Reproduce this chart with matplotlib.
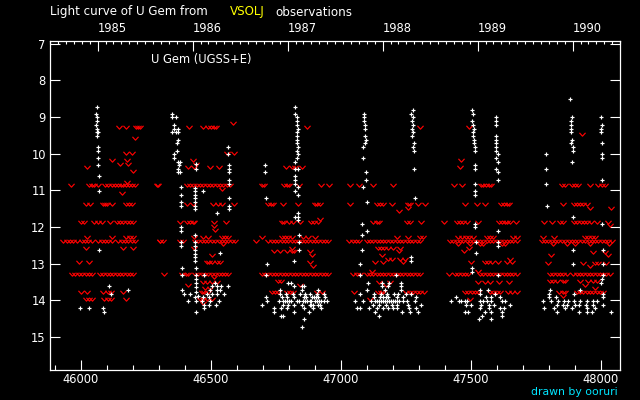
import datetime as dt
import numpy as np
import matplotlib
matplotlib.use("Agg")
import matplotlib.pyplot as plt
from matplotlib.path import Path
from matplotlib.transforms import blended_transform_factory

# ---------------- data (JD-2400000, visual magnitude) ----------------
title_left = "Light curve of U Gem from"
title_mid = "VSOLJ"
title_right = "observations"
star_label = "U Gem (UGSS+E)"
credit = "drawn by ooruri"
year_labels = [1985, 1986, 1987, 1988, 1989, 1990]
x_ticks = [46000, 46500, 47000, 47500, 48000]
y_ticks = [7, 8, 9, 10, 11, 12, 13, 14, 15]

# positive observations (white +)
obs_1985 = [(46064, 8.74), (46060, 8.93), (46063, 9.01), (46064, 9.12), (46060, 9.23), (46064, 9.34),
            (46062, 9.42), (46066, 9.42), (46064, 9.53), (46068, 9.83), (46068, 9.94), (46068, 10.13),
            (46068, 10.32), (46072, 10.62), (46072, 11.03), (46072, 12.64), (46110, 13.62), (46183, 13.73),
            (46118, 13.84), (45998, 14.22), (46033, 14.22), (46087, 14.22), (46091, 14.33)]
obs_1986 = [(46353, 8.93), (46350, 9.01), (46367, 9.01), (46357, 9.23), (46357, 9.34), (46353, 9.42),
            (46365, 9.42), (46376, 9.34), (46376, 9.42), (46376, 9.64), (46372, 9.72), (46372, 9.94),
            (46360, 10.02), (46360, 10.13), (46376, 10.24), (46383, 10.24), (46380, 10.32), (46376, 10.43),
            (46376, 10.51), (46383, 10.51), (46442, 10.27), (46442, 10.43), (46568, 9.83), (46568, 10.02),
            (46572, 10.32), (46572, 10.43), (46572, 10.51), (46572, 10.73), (46572, 10.84), (46387, 10.92),
            (46387, 11.14), (46387, 11.33), (46387, 11.44), (46441, 10.95), (46441, 11.03), (46441, 11.14),
            (46441, 11.22), (46441, 11.33), (46441, 11.44), (46441, 11.52), (46472, 11.03), (46526, 11.63),
            (46572, 11.22), (46572, 11.44), (46572, 11.52), (46387, 12.01), (46387, 12.12), (46387, 12.42),
            (46387, 12.53), (46441, 12.23), (46441, 12.42), (46441, 12.53), (46441, 12.64), (46441, 12.75),
            (46441, 12.83), (46441, 12.94), (46537, 12.72), (46391, 13.13), (46391, 13.32), (46445, 13.13),
            (46445, 13.32), (46445, 13.43), (46445, 13.54), (46445, 13.65), (46445, 13.76), (46441, 13.92),
            (46391, 13.73), (46399, 13.84), (46422, 13.84), (46414, 14.03), (46445, 14.03), (46476, 13.32),
            (46518, 13.54), (46506, 13.62), (46526, 13.62), (46541, 13.62), (46568, 13.62), (46499, 13.73),
            (46526, 13.73), (46537, 13.73), (46487, 13.84), (46506, 13.84), (46526, 13.84), (46553, 13.84),
            (46472, 13.92), (46495, 13.92), (46468, 14.03), (46499, 14.03), (46533, 14.03), (46476, 14.14),
            (46495, 14.14), (46522, 14.14), (46476, 14.22), (46445, 14.33), (46453, 13.89)]
obs_1987 = [(46825, 8.74), (46825, 8.93), (46830, 9.01), (46830, 9.12), (46830, 9.23), (46834, 9.34),
            (46830, 9.42), (46830, 9.53), (46830, 9.64), (46830, 9.72), (46834, 9.83), (46830, 9.94),
            (46834, 10.02), (46830, 10.13), (46825, 10.24), (46825, 10.43), (46837, 10.43), (46825, 10.62),
            (46825, 10.73), (46825, 10.84), (46825, 11.03), (46837, 10.92), (46837, 11.14), (46710, 10.32),
            (46710, 10.51), (46714, 11.22), (46837, 11.63), (46825, 11.74), (46837, 11.74), (46837, 11.82),
            (46841, 12.23), (46841, 12.42), (46841, 12.64), (46821, 12.94), (46718, 13.02), (46714, 13.32),
            (46798, 13.54), (46810, 13.54), (46821, 13.62), (46852, 13.62), (46860, 13.62), (46852, 13.73),
            (46914, 13.73), (46768, 13.73), (46768, 13.84), (46791, 13.84), (46818, 13.84), (46845, 13.84),
            (46864, 13.84), (46883, 13.84), (46907, 13.84), (46937, 13.84), (46714, 13.92), (46775, 13.92),
            (46795, 13.92), (46821, 13.92), (46891, 13.92), (46914, 13.92), (46941, 13.92), (46718, 14.03),
            (46764, 14.03), (46779, 14.03), (46795, 14.03), (46810, 14.03), (46856, 14.03), (46872, 14.03),
            (46887, 14.03), (46902, 14.03), (46918, 14.03), (46948, 14.03), (46779, 14.14), (46798, 14.14),
            (46821, 14.14), (46852, 14.14), (46887, 14.14), (46921, 14.14), (46698, 14.14), (46745, 14.22),
            (46771, 14.22), (46795, 14.22), (46860, 14.22), (46895, 14.22), (46925, 14.22), (46745, 14.33),
            (46821, 14.33), (46879, 14.33), (46771, 14.44), (46779, 14.44), (46860, 14.52), (46852, 14.74),
            (46830, 14.03), (46840, 14.03), (46864, 14.03), (46880, 14.03), (46910, 14.03), (46926, 14.03),
            (46934, 14.03), (46787, 14.03), (46802, 14.03), (46860, 13.92), (46868, 13.92), (46898, 13.92),
            (46906, 13.92), (46880, 14.14), (46895, 14.14), (46913, 14.14)]
obs_1988 = [(47091, 8.93), (47091, 9.01), (47091, 9.12), (47093, 9.23), (47093, 9.34), (47094, 9.53),
            (47098, 9.64), (47094, 9.72), (47087, 9.83), (47087, 10.13), (47098, 10.51), (47098, 10.73),
            (47087, 10.92), (47102, 11.33), (47083, 11.93), (47102, 12.12), (47083, 12.23), (47083, 12.64),
            (47075, 13.02), (47075, 13.32), (47279, 8.82), (47271, 8.93), (47279, 9.01), (47275, 9.12),
            (47279, 9.23), (47275, 9.34), (47279, 9.42), (47275, 9.53), (47283, 9.72), (47279, 9.83),
            (47283, 9.94), (47283, 10.43), (47287, 11.22), (47271, 12.83), (47271, 12.94), (47214, 13.32),
            (47106, 13.54), (47160, 13.54), (47187, 13.54), (47233, 13.54), (47160, 13.62), (47183, 13.62),
            (47233, 13.62), (47102, 13.73), (47171, 13.73), (47233, 13.73), (47075, 13.84), (47129, 13.84),
            (47156, 13.84), (47179, 13.84), (47206, 13.84), (47221, 13.84), (47252, 13.84), (47271, 13.84),
            (47129, 13.92), (47152, 13.92), (47175, 13.92), (47218, 13.92), (47241, 13.92), (47291, 13.92),
            (47056, 14.03), (47087, 14.03), (47118, 14.03), (47133, 14.03), (47148, 14.03), (47164, 14.03),
            (47179, 14.03), (47194, 14.03), (47210, 14.03), (47225, 14.03), (47241, 14.03), (47256, 14.03),
            (47287, 14.03), (47125, 14.14), (47148, 14.14), (47175, 14.14), (47198, 14.14), (47218, 14.14),
            (47260, 14.14), (47310, 14.14), (47064, 14.22), (47075, 14.22), (47110, 14.22), (47141, 14.22),
            (47164, 14.22), (47183, 14.22), (47202, 14.22), (47218, 14.22), (47264, 14.22), (47291, 14.22),
            (47133, 14.33), (47237, 14.33), (47268, 14.33), (47298, 14.33), (47148, 14.44), (47140, 14.03),
            (47156, 14.03), (47171, 14.03), (47187, 14.03), (47202, 14.03), (47217, 14.03), (47164, 13.92),
            (47183, 13.92)]
obs_1989 = [(47506, 8.82), (47510, 8.93), (47506, 9.12), (47510, 9.23), (47514, 9.34), (47510, 9.42),
            (47510, 9.53), (47514, 9.64), (47514, 9.72), (47518, 9.83), (47518, 9.94), (47518, 10.32),
            (47518, 10.43), (47518, 10.84), (47518, 11.03), (47518, 11.14), (47518, 11.93), (47518, 12.01),
            (47522, 12.42), (47522, 12.72), (47599, 9.01), (47599, 9.12), (47599, 9.23), (47599, 9.53),
            (47599, 9.64), (47599, 9.72), (47599, 9.83), (47599, 9.94), (47603, 10.02), (47599, 10.13),
            (47603, 10.24), (47599, 10.43), (47603, 10.51), (47603, 10.73), (47603, 12.12), (47603, 12.42),
            (47603, 12.53), (47506, 13.13), (47506, 13.24), (47606, 13.32), (47537, 13.73), (47568, 13.73),
            (47595, 13.84), (47537, 13.84), (47445, 13.92), (47560, 13.92), (47576, 13.92), (47614, 13.92),
            (47426, 14.03), (47453, 14.03), (47464, 14.03), (47479, 14.03), (47487, 14.03), (47537, 14.03),
            (47549, 14.03), (47564, 14.03), (47579, 14.03), (47622, 14.03), (47633, 14.03), (47483, 14.14),
            (47502, 14.14), (47541, 14.14), (47572, 14.14), (47591, 14.14), (47652, 14.14), (47537, 14.22),
            (47572, 14.22), (47614, 14.22), (47626, 14.22), (47479, 14.33), (47491, 14.33), (47556, 14.33),
            (47576, 14.33), (47622, 14.33), (47545, 14.44), (47622, 14.44), (47533, 14.52), (47576, 14.52)]
obs_1990 = [(47883, 8.52), (47890, 9.01), (47886, 9.12), (47886, 9.23), (47886, 9.34), (47886, 9.42),
            (47890, 9.64), (47886, 9.72), (47892, 9.83), (47892, 9.94), (47890, 10.24), (47791, 10.02),
            (47791, 10.43), (47791, 10.84), (47795, 11.44), (47895, 11.74), (48001, 9.01), (48006, 9.23),
            (48001, 9.34), (48001, 9.42), (48004, 9.72), (48006, 10.02), (48006, 10.13), (48006, 10.73),
            (48006, 11.93), (47895, 12.64), (47895, 13.02), (48010, 12.64), (48010, 13.02), (48010, 13.32),
            (48006, 13.43), (48001, 13.54), (47806, 13.73), (47922, 13.73), (47802, 13.84), (47898, 13.84),
            (48010, 13.84), (47802, 13.92), (48010, 13.92), (47779, 14.03), (47810, 14.03), (47829, 13.92),
            (47837, 14.03), (47860, 14.03), (47875, 14.03), (47898, 14.03), (47922, 14.03), (47949, 14.03),
            (47972, 14.03), (47987, 14.03), (47833, 14.14), (47856, 14.14), (47872, 14.14), (47902, 14.14),
            (47918, 14.14), (47945, 14.14), (47972, 14.14), (48010, 14.14), (47783, 14.22), (47822, 14.22),
            (47864, 14.22), (47891, 14.22), (47949, 14.22), (47979, 14.22), (47833, 14.33), (47918, 14.33),
            (47949, 14.33), (47968, 14.33), (48041, 14.33)]

# "fainter than" estimates (red v): (magnitude, [JD, ...])
lim_1985 = [(9.28, [46148, 46174, 46213, 46222, 46228]), (9.58, [46210]), (9.97, [46174, 46196]),
            (10.17, [46121, 46179]), (10.27, [46152, 46183]), (10.36, [46025]), (10.47, [46202]),
            (10.78, [46177]),
            (10.86, [45963, 46033, 46042, 46051, 46068, 46093, 46106, 46121, 46132, 46142, 46154, 46164,
                     46174, 46186, 46198, 46209, 46292]),
            (11.08, [46157]),
            (11.38, [46020, 46036, 46084, 46093, 46102, 46121, 46173, 46186, 46198]),
            (11.87, [46000, 46014, 46052, 46068, 46081, 46113, 46138, 46151, 46164, 46177, 46189, 46202]),
            (12.28, [46025, 46119, 46174, 46189, 46202]),
            (12.37, [45933, 45946, 45959, 45972, 45984, 46004, 46016, 46029, 46042, 46068, 46081, 46093,
                     46106, 46121, 46145, 46157, 46170, 46183, 46196, 46209, 46305]),
            (12.58, [46020, 46164, 46202]), (12.96, [45995, 46033]),
            (13.27, [45968, 45980, 45993, 46006, 46019, 46032, 46042, 46074, 46087, 46100, 46113, 46125,
                     46138, 46151, 46164, 46177, 46189, 46202]),
            (13.78, [46001, 46023, 46084, 46104, 46116, 46164]),
            (13.96, [46020, 46033, 46045, 46091, 46104, 46116, 46174])]
lim_1986 = [(9.17, [46587]), (9.28, [46418, 46469, 46491, 46501, 46512, 46521]), (9.97, [46562, 46591]),
            (10.17, [46430]), (10.27, [46444]), (10.36, [46414, 46436, 46499, 46533]),
            (10.86, [46299, 46408, 46421, 46433, 46446, 46459, 46472, 46485, 46498, 46510, 46523, 46536,
                     46549, 46562, 46574]),
            (10.97, [46545]), (11.38, [46408, 46430, 46510, 46527, 46542, 46591]),
            (11.87, [46382, 46408, 46421, 46430, 46437, 46514, 46558]), (11.97, [46514]), (12.07, [46517]),
            (12.28, [46437, 46472, 46489, 46542, 46555, 46568]),
            (12.37, [46305, 46318, 46382, 46395, 46440, 46453, 46465, 46478, 46491, 46504, 46517, 46530,
                     46542, 46555, 46568, 46581, 46594]),
            (12.47, [46549]), (12.58, [46437]), (12.77, [46504]),
            (12.96, [46485, 46495, 46506, 46523, 46536]),
            (13.27, [46322, 46389, 46404, 46414, 46440, 46453, 46465, 46478, 46491, 46504, 46517, 46530,
                     46542, 46555, 46566]),
            (13.37, [46514]), (13.49, [46472, 46485, 46506, 46523]), (13.57, [46414]),
            (13.67, [46478, 46498]), (13.78, [46465, 46476, 46489]),
            (13.96, [46459, 46472, 46485, 46504]), (14.08, [46472])]
lim_1987 = [(9.28, [46871]), (10.36, [46789, 46811, 46824, 46850]),
            (10.86, [46696, 46705, 46782, 46792, 46802, 46841, 46923, 46954]),
            (11.38, [46722, 46730, 46741, 46777, 46837, 46901, 46910, 46920]), (11.77, [46920]),
            (11.87, [46773, 46783, 46802, 46815, 46843, 46886, 46898, 46911]),
            (12.28, [46696, 46773, 46786, 46798, 46811, 46856, 46875, 46901]),
            (12.37, [46674, 46722, 46734, 46747, 46760, 46773, 46786, 46798, 46811, 46824, 46837, 46850,
                     46863, 46875, 46888, 46901, 46914, 46927, 46939, 46952]),
            (12.58, [46811]), (12.65, [46743, 46766, 46795, 46811, 46822, 46882]), (12.77, [46888]),
            (12.96, [46882]), (13.07, [46892]),
            (13.27, [46696, 46709, 46722, 46734, 46747, 46760, 46773, 46786, 46798, 46811, 46824, 46837,
                     46850, 46863, 46875, 46888, 46901, 46914, 46927, 46939, 46952]),
            (13.47, [46760, 46770]), (13.58, [46843]),
            (13.78, [46734, 46747, 46760, 46792, 46805, 46818, 46907, 46927])]
lim_1988 = [(9.28, [47306]), (10.86, [47035, 47070, 47125, 47202]),
            (11.38, [47035, 47141, 47151, 47161, 47196, 47260, 47266, 47298, 47324]),
            (11.47, [47260]), (11.57, [47225]),
            (11.87, [47125, 47138, 47148, 47253, 47266, 47309]),
            (12.28, [47215, 47260, 47305, 47315]),
            (12.37, [47033, 47046, 47059, 47071, 47100, 47112, 47125, 47138, 47151, 47164, 47176, 47189,
                     47202, 47215, 47228, 47241, 47253, 47266, 47279, 47292, 47305]),
            (12.58, [47142, 47155, 47168, 47180, 47200, 47228]), (12.65, [47225]), (12.77, [47160]),
            (12.88, [47183, 47196, 47228, 47247]), (12.96, [47132, 47164, 47238]), (13.19, [47119]),
            (13.27, [47046, 47061, 47074, 47100, 47112, 47125, 47138, 47151, 47164, 47176, 47189, 47202,
                     47215, 47228, 47241, 47253, 47266, 47279, 47292, 47305]),
            (13.49, [47148, 47189]), (13.58, [47174]),
            (13.78, [47051, 47144, 47153, 47164, 47251, 47266, 47279, 47292, 47305, 47320]),
            (13.96, [47112])]
lim_1989 = [(9.28, [47495]), (10.17, [47464]), (10.36, [47459]),
            (10.86, [47436, 47468, 47538, 47549, 47559, 47569, 47578]),
            (11.38, [47478, 47523, 47555, 47615, 47628, 47638, 47649]),
            (11.87, [47397, 47446, 47459, 47472, 47485, 47526, 47610, 47620, 47631, 47641, 47651, 47674]),
            (12.28, [47452, 47465, 47482, 47495, 47510, 47561, 47574, 47587, 47664, 47677]),
            (12.37, [47420, 47433, 47446, 47459, 47472, 47485, 47497, 47510, 47523, 47536, 47549, 47561,
                     47574, 47587, 47600, 47613, 47626, 47638, 47651, 47664, 47677]),
            (12.47, [47452, 47497, 47536, 47549, 47619, 47632]), (12.58, [47495]), (12.65, [47474]),
            (12.88, [47651]), (12.96, [47500, 47555, 47568, 47581, 47606, 47638, 47658]),
            (13.19, [47529]),
            (13.27, [47418, 47440, 47452, 47465, 47478, 47491, 47536, 47549, 47561, 47574, 47587, 47600,
                     47613, 47626, 47638, 47651, 47664, 47677]),
            (13.49, [47529, 47555, 47574, 47610, 47649]),
            (13.78, [47478, 47491, 47504, 47517, 47526, 47574, 47587, 47600, 47613, 47645, 47658, 47677]),
            (13.96, [47497])]
lim_1990 = [(9.47, [47929]), (10.86, [47850, 47863, 47888, 47901, 47914, 47959, 47991, 48004, 48016]),
            (11.38, [47856, 47897, 47907, 47920, 47933, 47946]), (11.47, [47959, 48040]),
            (11.87, [47782, 47811, 47843, 47854, 47897, 47910, 47923, 47936, 47948, 47961, 47984, 48029]),
            (11.95, [48036]), (12.27, [47777, 47820, 47940, 47952, 47965, 47978]),
            (12.37, [47773, 47786, 47799, 47811, 47824, 47837, 47850, 47863, 47876, 47889, 47901, 47914,
                     47927, 47940, 47953, 47965, 47978, 47991, 48004, 48017, 48029, 48042]),
            (12.47, [47815, 47869, 47901, 47959, 48033]), (12.67, [47972, 48016]), (12.77, [47807, 48029]),
            (12.97, [47799, 47933, 47978, 47991, 48020]), (13.06, [47959]),
            (13.27, [47805, 47818, 47831, 47843, 47856, 47869, 47895, 47907, 47920, 47933, 47946, 47959,
                     47971, 47984, 47997, 48010, 48022, 48035]),
            (13.48, [47805, 47818, 47831, 47856, 47863, 47920, 47952, 47972, 47984]),
            (13.57, [47940]), (13.67, [47978]),
            (13.78, [47841, 47854, 47863, 47907, 47920, 47933, 47946, 47959, 47971, 47984, 47997, 48010]),
            (13.87, [47856])]

# ---------------- assemble ----------------
obs = obs_1985 + obs_1986 + obs_1987 + obs_1988 + obs_1989 + obs_1990
obs_jd = np.array([p[0] for p in obs], dtype=float)
obs_mag = np.array([p[1] for p in obs], dtype=float)
lim_jd, lim_mag = [], []
for season in (lim_1985, lim_1986, lim_1987, lim_1988, lim_1989, lim_1990):
    for mag, jds in season:
        lim_jd.extend(jds)
        lim_mag.extend([mag] * len(jds))


def jd_of(y, m, d=1):
    return dt.date(y, m, d).toordinal() + 1721424.5 - 2400000


W, H = 640, 400
fig = plt.figure(figsize=(6.4, 4.0), dpi=100, facecolor="black")
ax = fig.add_axes([50 / W, 30 / H, 570 / W, 329 / H], facecolor="black")
ax.set_xlim(45882, 48074)
ax.set_ylim(15.9, 6.93)

vee = Path([(-1, 0.55), (0, -0.55), (1, 0.55)], [Path.MOVETO, Path.LINETO, Path.LINETO])
ax.plot(lim_jd, lim_mag, ls="none", marker=vee, ms=4.4, mew=0.85, mfc="none",
        mec="#ff0000", antialiased=False)
ax.plot(obs_jd, obs_mag, ls="none", marker="+", ms=3.4, mew=0.85, color="white",
        antialiased=False)

for s in ax.spines.values():
    s.set_color("white")
    s.set_linewidth(0.9)

fs = 8.3
ax.set_xticks(x_ticks)
ax.set_xticklabels([str(v) for v in x_ticks])
ax.set_xticks(np.arange(45900, 48075, 100), minor=True)
ax.set_yticks(y_ticks)
ax.set_yticklabels([str(v) for v in y_ticks])
ax.tick_params(axis="x", which="major", direction="in", length=7.2, width=0.8, colors="white",
               labelsize=fs, pad=2.0, top=False)
ax.tick_params(axis="x", which="minor", direction="in", length=3.6, width=0.8, colors="white",
               top=False)
ax.tick_params(axis="y", which="major", direction="in", length=7.2, width=0.8, colors="white",
               labelsize=fs, pad=3, right=True)

# top calendar axis
ax2 = ax.twiny()
ax2.set_xlim(ax.get_xlim())
ax2.set_facecolor("none")
year_jd = [jd_of(y, 1) for y in year_labels]
month_jd = [jd_of(y, m) for y in range(1984, 1991) for m in range(1, 13)]
month_jd = [v for v in month_jd if 45882 < v < 48074]
ax2.set_xticks(year_jd)
ax2.set_xticks(month_jd, minor=True)
ax2.set_xticklabels([])
ax2.tick_params(axis="x", which="major", direction="in", length=7.2, width=0.8, colors="white",
                labeltop=False)
ax2.tick_params(axis="x", which="minor", direction="in", length=2.5, width=0.8, colors="white")
for s in ax2.spines.values():
    s.set_visible(False)

trans = blended_transform_factory(ax.transData, fig.transFigure)
for y, xj in zip(year_labels, year_jd):
    ax.text(xj, 1 - 28 / H, str(y), transform=trans, ha="left", va="center", color="white",
            fontsize=fs, clip_on=False)

fig.text(50 / W, 1 - 12 / H, title_left, color="white", fontsize=fs + 0.3, ha="left", va="center")
fig.text(230 / W, 1 - 12 / H, title_mid, color="#ffff00", fontsize=fs + 0.3, ha="left", va="center")
fig.text(275 / W, 1 - 12 / H, title_right, color="white", fontsize=fs + 0.3, ha="left", va="center")
fig.text(151 / W, 1 - 60 / H, star_label, color="white", fontsize=fs, ha="left", va="center")
fig.text(618 / W, 1 - 392 / H, credit, color="#00e5ff", fontsize=7.8, ha="right", va="center")

fig.savefig("out.png", dpi=100, facecolor="black")
